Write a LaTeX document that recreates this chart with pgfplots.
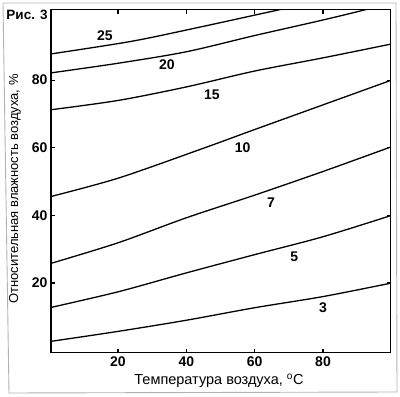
\documentclass[border=0pt]{standalone}
\usepackage{pgfplots}
\pgfplotsset{compat=1.18}
\usepackage{fontspec}
\setmainfont{Liberation Sans}
\pgfplotsset{curve/.style={black, solid, line width=1.3pt, smooth, mark=none}}
\begin{document}
\begin{tikzpicture}[x=1pt,y=1pt]
\useasboundingbox (-51,-44.3) rectangle (349,352.7);
\draw[gray!60, line width=0.9pt] (-48,349.7) -- (-42,-40.3) -- (346,-39.3) -- (345,349.7) -- cycle;
\node[font=\fontsize{13.5}{15}\selectfont\bfseries] at (-24,337.7) {Рис. 3};
\node[font=\fontsize{14.5}{16}\selectfont] at (168,-28.3) {Температура воздуха, \textsuperscript{o}C};
\node[font=\fontsize{13}{15}\selectfont, rotate=90] at (-36,163.7) {Относительная влажность воздуха, \%};
\begin{axis}[at={(0,0)}, anchor=south west, scale only axis,
  width=339.7pt, height=343.2pt,
  xmin=0.4, xmax=99.8, ymin=-0.6, ymax=100.9,
  xtick={20,40,60,80}, ytick={20,40,60,80},
  tick align=inside, major tick length=4pt,
  axis line style={line width=1.3pt},
  tick style={line width=1.1pt, black},
  ticklabel style={font=\fontsize{14}{16}\selectfont\bfseries},
  /pgf/number format/assume math mode=true,
  clip=true]
% 3
\addplot[curve] coordinates {(0,2.7) (20,5.7) (40,9) (60,12.7) (80,16) (100,20)};
% 5
\addplot[curve] coordinates {(0,12.7) (20,17.4) (40,23) (60,28.4) (80,33.7) (100,40)};
% 7
\addplot[curve] coordinates {(0,25.7) (20,31.9) (40,39.3) (60,46) (80,53) (100,60.3)};
% 10
\addplot[curve] coordinates {(0,45.5) (20,51) (44,59.5) (60,65.4) (80,72.7) (100,80)};
% 15
\addplot[curve] coordinates {(0,71.2) (20,74) (40,78) (60,82.7) (80,86.6) (100,90.7)};
% 20
\addplot[curve] coordinates {(0,82.1) (20,85) (40,88.4) (60,93.2) (80,97.8) (93,101) (100,103)};
% 25
\addplot[curve] coordinates {(0,87.7) (24,91.5) (44,95.7) (68,101) (80,103.5)};
\begin{scope}[every node/.style={font=\fontsize{14}{16}\selectfont\bfseries}]
\node at (axis cs:16.2,93.3) {25};
\node at (axis cs:34.3,84.5) {20};
\node at (axis cs:47.5,75.6) {15};
\node at (axis cs:56.5,60) {10};
\node at (axis cs:64.8,43.7) {7};
\node at (axis cs:71.6,27.8) {5};
\node at (axis cs:80,12.7) {3};
\end{scope}
\end{axis}
\end{tikzpicture}
\end{document}
